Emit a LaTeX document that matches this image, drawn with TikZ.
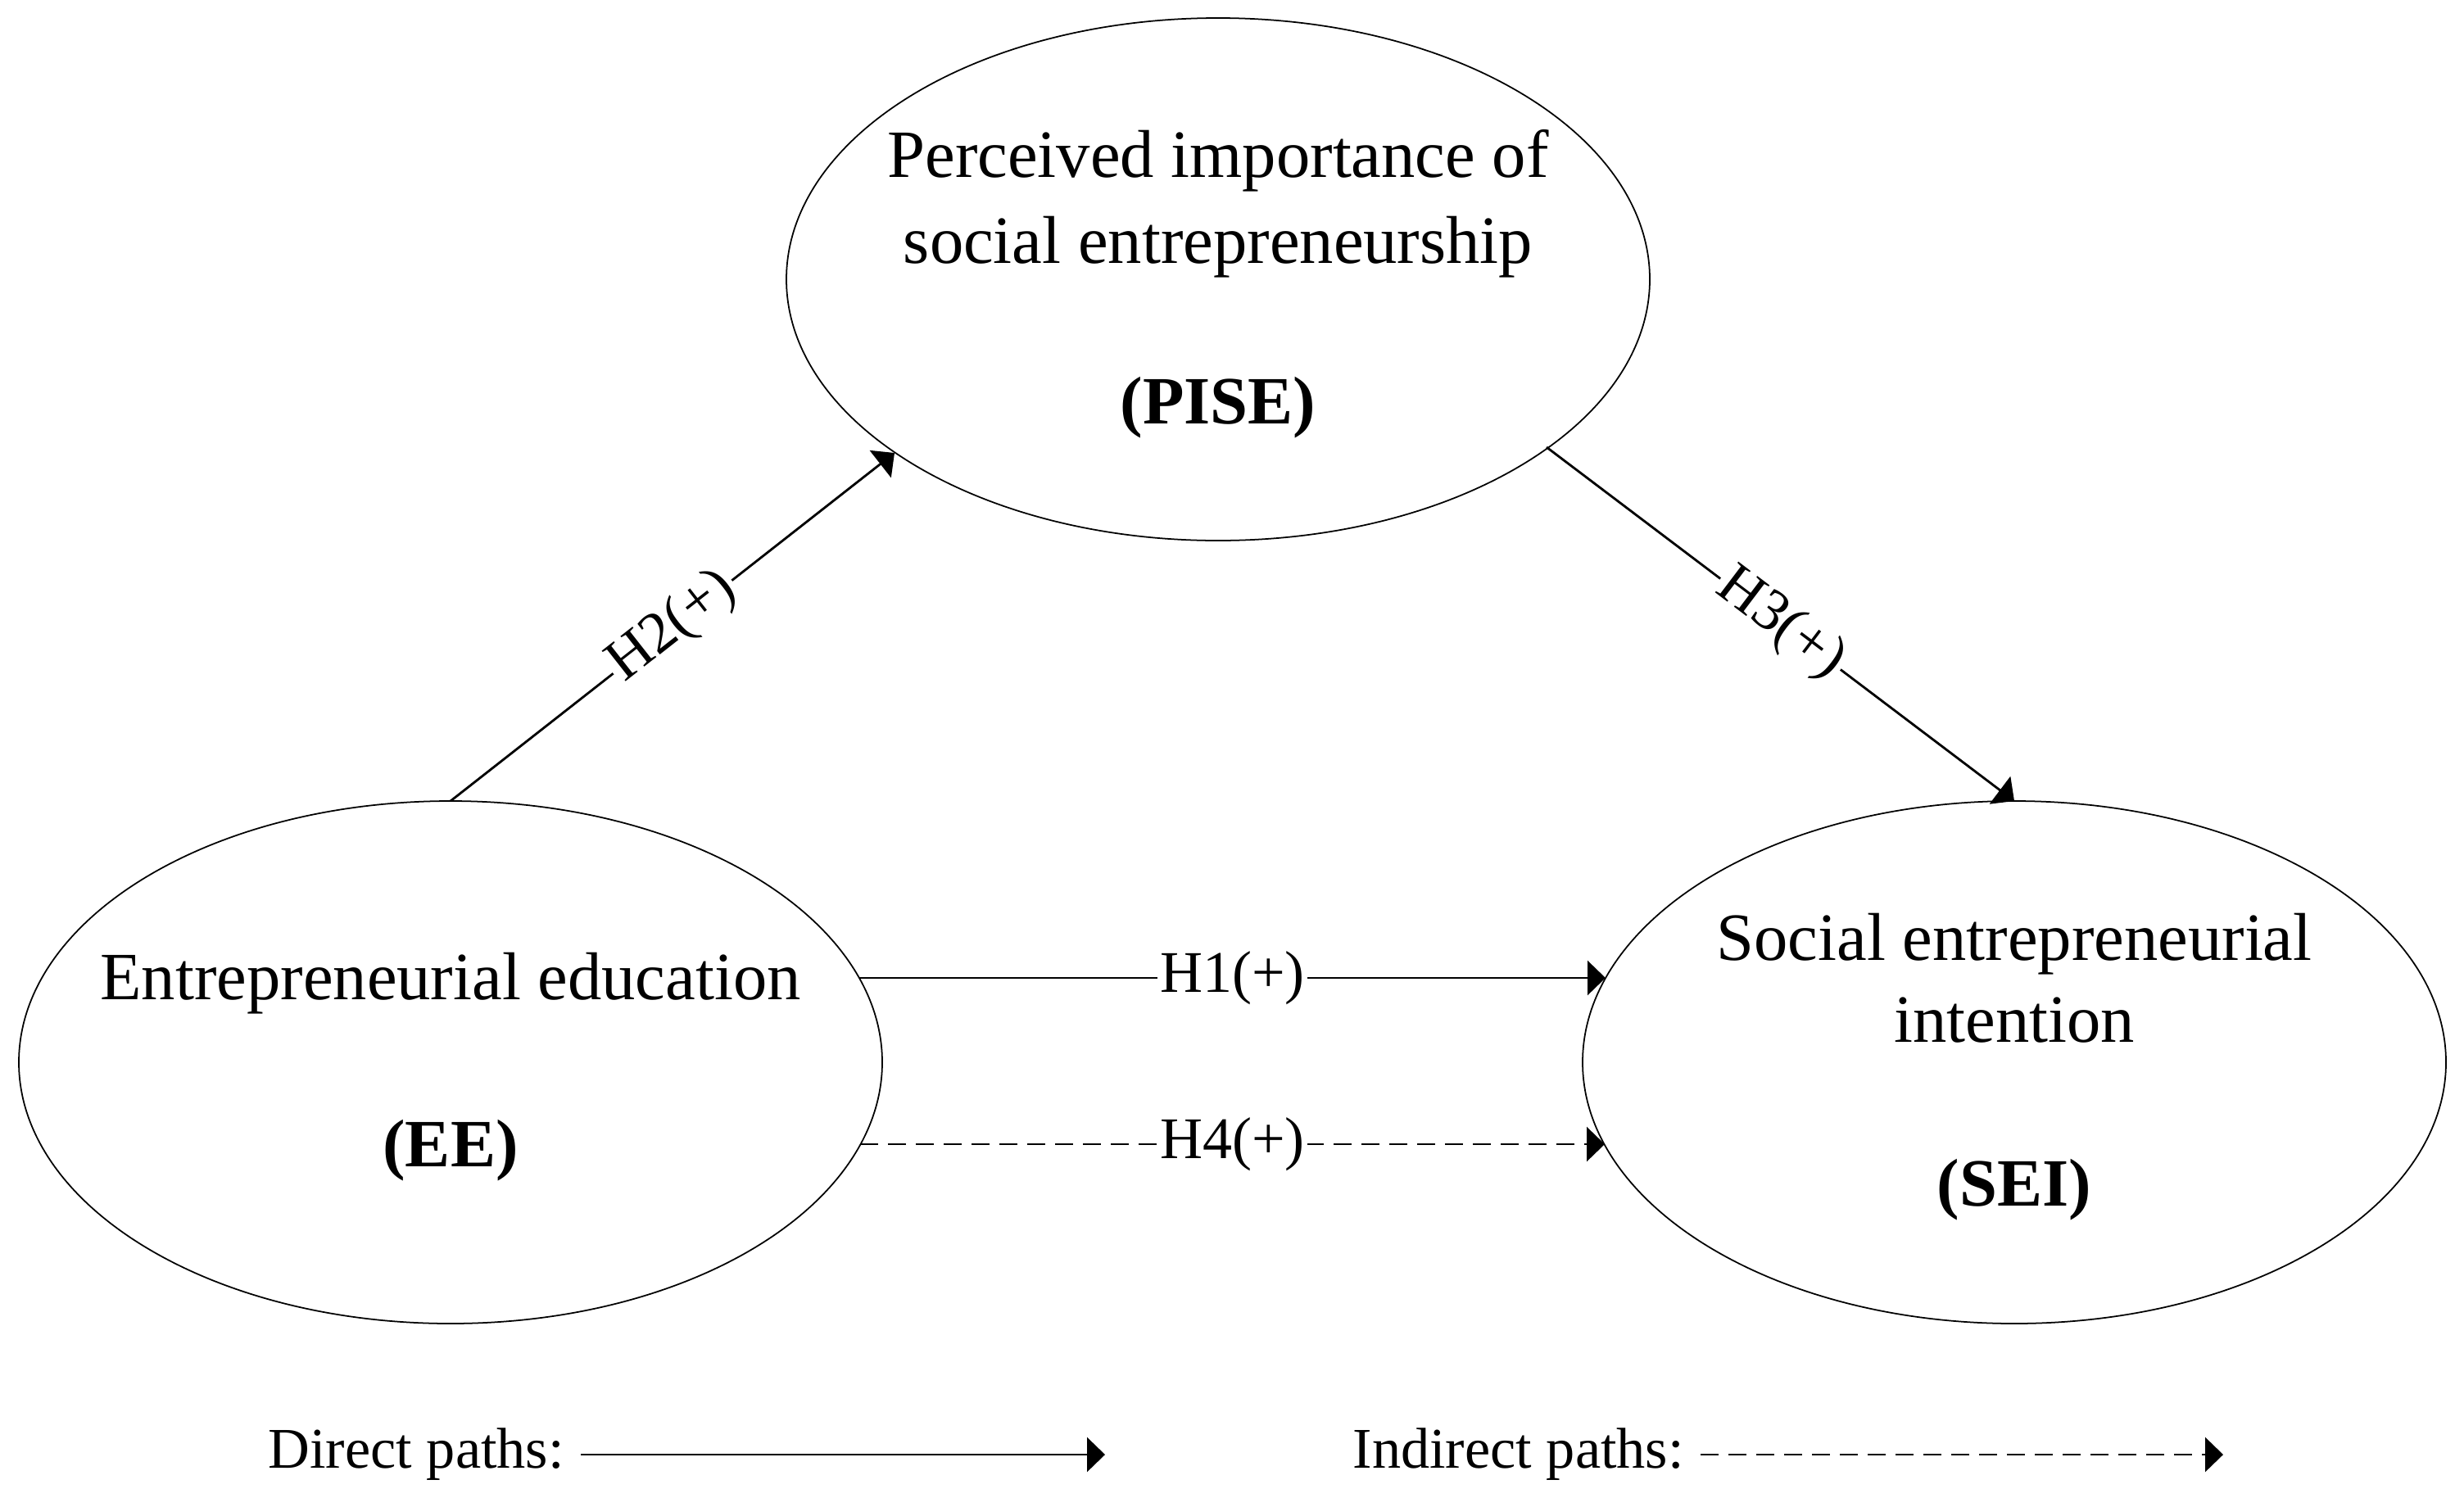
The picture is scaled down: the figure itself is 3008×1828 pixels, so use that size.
\documentclass[tikz,border=0pt]{standalone}
\usepackage{fontspec}
\setmainfont{Liberation Serif}
\usetikzlibrary{arrows.meta,shapes.geometric,calc}
\tikzset{
  construct/.style={ellipse, draw, line width=0.5pt, minimum width=105.4mm, minimum height=63.8mm, inner sep=0pt, outer sep=0pt},
  maintext/.style={align=center, inner sep=0pt, yshift=-0.55mm},
  pathline/.style={line width=0.8pt, -{Triangle[length=2.2mm,width=4.2mm]}},
  indpath/.style={pathline, dash pattern=on 2.2mm off 1.2mm},
  lbl/.style={fill=white, inner xsep=1pt, inner ysep=0pt, font=\fontsize{20.5}{24}\selectfont},
  legtext/.style={font=\fontsize{20}{24}\selectfont, inner sep=0pt, anchor=base west}
}
\begin{document}
\begin{tikzpicture}[x=0.1mm, y=-0.1mm]
\useasboundingbox (0,0) rectangle (3008,1828);
\node[construct] (pise) at (1487,341) {};
\node[construct] (ee) at (550,1297) {};
\node[construct] (sei) at (2459,1297) {};
\node[maintext, font=\fontsize{23.5}{30}\selectfont] (pisetxt) at (pise) {Perceived importance of\\social entrepreneurship\\[25.5pt]\textbf{(PISE)}};
\node[maintext, font=\fontsize{23.5}{30}\selectfont] (eetxt) at (ee) {Entrepreneurial education\\[28pt]\textbf{(EE)}};
\node[maintext, font=\fontsize{23.5}{28.5}\selectfont] (seitxt) at (sei) {Social entrepreneurial\\intention\\[28.5pt]\textbf{(SEI)}};
\coordinate (h2b) at ($(pise.center)+(-395,212)$);
\coordinate (h3a) at ($(pise.center)+(401,205)$);
\coordinate (h1a) at ($(ee.center)+(499,-103)$);
\coordinate (h1b) at ($(sei.center)+(-499,-103)$);
\coordinate (h4a) at ($(ee.center)+(500,100)$);
\coordinate (h4b) at ($(sei.center)+(-500,100)$);
\draw[pathline] (ee.north) -- node[midway, sloped, lbl] {H2(+)} (h2b);
\draw[pathline] (h3a) -- node[midway, sloped, lbl] {H3(+)} (sei.north);
\draw[pathline] (h1a) -- node[midway, lbl] {H1(+)} (h1b);
\draw[indpath] (h4a) -- node[midway, lbl] {H4(+)} (h4b);
\node[legtext] (dtxt) at (327,1792) {Direct paths:};
\coordinate (d1) at (709,1776);
\coordinate (d2) at (1349,1776);
\draw[pathline] (d1) -- (d2);
\node[legtext] (itxt) at (1651,1792) {Indirect paths:};
\coordinate (i1) at (2076,1776);
\coordinate (i2) at (2714,1776);
\draw[indpath] (i1) -- (i2);
\end{tikzpicture}
\end{document}
